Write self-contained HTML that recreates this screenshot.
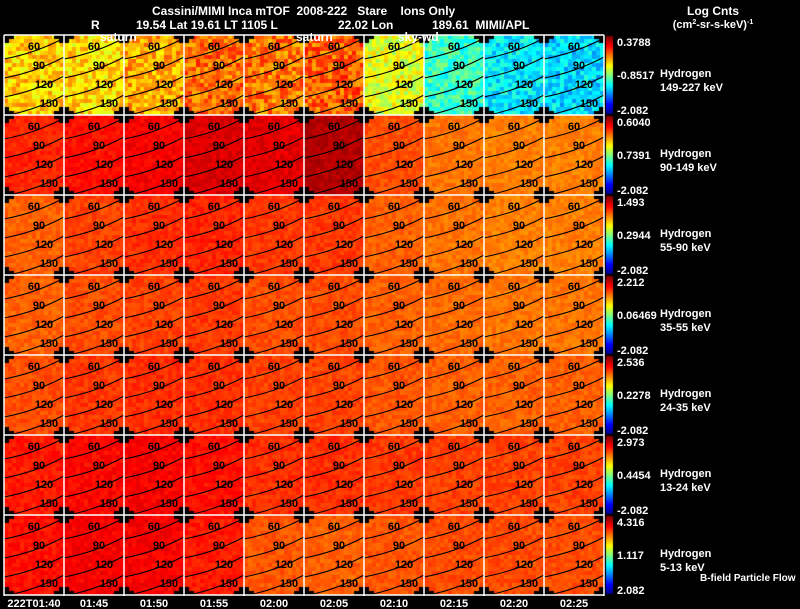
<!DOCTYPE html>
<html><head><meta charset="utf-8"><style>
html,body{margin:0;padding:0;background:#000;}
#wrap{position:relative;width:800px;height:609px;overflow:hidden;background:#000;font-family:"Liberation Sans",sans-serif;color:#fff;}
canvas,svg{position:absolute;left:0;top:0;}
text{white-space:pre;}
</style></head><body>
<div id="wrap">
<canvas id="cv" width="800" height="609"></canvas>
<svg id="sv" width="800" height="609"><defs id="defs"></defs></svg>
</div>
<script>
// ---- data ----
const times = ["222T01:40","01:45","01:50","01:55","02:00","02:05","02:10","02:15","02:20","02:25"];
const energyLabels = ["149-227 keV","90-149 keV","55-90 keV","35-55 keV","24-35 keV","13-24 keV","5-13 keV"];
const cbMax = ["0.3788","0.6040","1.493","2.212","2.536","2.973","4.316"];
const cbMid = ["-0.8517","0.7391","0.2944","0.06469","0.2278","0.4454","1.117"];
const cbMin = ["-2.082","-2.082","-2.082","-2.082","-2.082","-2.082","2.082"];
const contourLevels = ["60","90","120","150"];
// normalized mean log count per panel (row = energy, col = time)
const row0 = [0.67,0.66,0.71,0.77,0.76,0.78,0.60,0.43,0.36,0.34];
const row1 = [0.84,0.86,0.88,0.91,0.90,0.95,0.80,0.76,0.75,0.75];
const row2 = [0.78,0.81,0.83,0.84,0.82,0.82,0.78,0.76,0.75,0.75];
const row3 = [0.78,0.80,0.81,0.82,0.80,0.80,0.78,0.77,0.76,0.76];
const row4 = [0.80,0.82,0.83,0.83,0.81,0.81,0.79,0.78,0.78,0.78];
const row5 = [0.85,0.87,0.88,0.86,0.83,0.83,0.82,0.81,0.81,0.81];
const row6 = [0.86,0.88,0.88,0.85,0.79,0.78,0.79,0.80,0.80,0.80];
const rows = [row0,row1,row2,row3,row4,row5,row6];

const X0=4, CW=60, Y0=35, RH=80, NC=10, NR=7;
const xCol = c => X0 + c*CW;
const yRow = r => Y0 + r*RH;

function jet(v){
  v=Math.max(0,Math.min(1,v));
  const f=(a)=>Math.max(0,Math.min(1,1.5-Math.abs(4*v-a)));
  return [255*f(3),255*f(2),255*f(1)];
}
// deterministic speckle texture – not data
function tex(i,j,k){let h=Math.sin(i*12.9898+j*78.233+k*37.719)*43758.5453;return (h-Math.floor(h))-0.5;}

const cv=document.getElementById('cv'), ctx=cv.getContext('2d');
const CELL=4;
for(let r=0;r<NR;r++){for(let c=0;c<NC;c++){
  const x=xCol(c), y=yRow(r), mean=rows[r][c];
  const amp = r===0 ? 0.16 : 0.05;
  for(let i=0;i<15;i++){for(let j=0;j<20;j++){
    const v=mean+amp*tex(i,j,r*10+c);
    const [R,G,B]=jet(v);
    ctx.fillStyle=`rgb(${R|0},${G|0},${B|0})`;
    ctx.fillRect(x+i*CELL, y+j*CELL, CELL, CELL);
  }}
  ctx.fillStyle='#000';
  [[x,y,1,1],[x+CW,y,-1,1],[x,y+RH,1,-1],[x+CW,y+RH,-1,-1]].forEach(([cx,cy,sx,sy])=>{
    ctx.fillRect(sx>0?cx:cx-10, sy>0?cy:cy-4, 10, 4);
    ctx.fillRect(sx>0?cx:cx-5, sy>0?cy:cy-8, 5, 8);
  });
}}
for(let r=0;r<NR;r++){
  const y=yRow(r)+1;
  for(let k=0;k<RH-2;k++){
    const [R,G,B]=jet(1-k/(RH-2));
    ctx.fillStyle=`rgb(${R|0},${G|0},${B|0})`;
    ctx.fillRect(606,y+k,7,1);
  }
}

const NS='http://www.w3.org/2000/svg', sv=document.getElementById('sv'), defs=document.getElementById('defs');
function el(tag,attrs,text,parent){const e=document.createElementNS(NS,tag);for(const k in attrs)e.setAttribute(k,attrs[k]);if(text!==undefined)e.textContent=text;(parent||sv).appendChild(e);return e;}

for(let r=0;r<NR;r++){for(let c=0;c<NC;c++){
  const x=xCol(c), y=yRow(r);
  const cp=el('clipPath',{id:`cp${r}_${c}`},undefined,defs);
  el('rect',{x:x,y:y,width:CW,height:RH},undefined,cp);
  const g=el('g',{'clip-path':`url(#cp${r}_${c})`});
  
  
  contourLevels.forEach((lab,k)=>{
    const yl=y+24+k*19, yr=y+3+k*19;
    const p=el('path',{d:`M${x} ${yl} Q${x+32} ${yl-6} ${x+CW} ${yr}`,fill:'none',stroke:'#000','stroke-width':1},undefined,g);
    
    
    const t=el('text',{x:x+30+k*5,y:y+15+k*19,'font-size':11,'font-weight':'bold','text-anchor':'middle',fill:'#000'},lab,g);
    
    
  });
}}
for(let c=0;c<=NC;c++){
  const g=el('line',{x1:xCol(c),y1:Y0,x2:xCol(c),y2:Y0+NR*RH+1,stroke:'#fff','stroke-width':1.5});
  
  
}
for(let r=0;r<=NR;r++){
  const g=el('line',{x1:X0,y1:yRow(r),x2:X0+NC*CW,y2:yRow(r),stroke:'#fff','stroke-width':1.5});
  
  
}
times.forEach((t,c)=>{
  const e=el('text',{x:xCol(c)+30,y:607,'font-size':11,'font-weight':'bold','text-anchor':'middle',fill:'#fff'},t);
  
  
});
for(let r=0;r<NR;r++){
  const y=yRow(r);
  const a=el('text',{x:617,y:y+11,'font-size':11,'font-weight':'bold',fill:'#fff'},cbMax[r]);
  
  
  const b=el('text',{x:617,y:y+44,'font-size':11,'font-weight':'bold',fill:'#fff'},cbMid[r]);
  
  
  const m=el('text',{x:617,y:y+79,'font-size':11,'font-weight':'bold',fill:'#fff'},cbMin[r]);
  
  
  const h=el('text',{x:660,y:y+42,'font-size':11,'font-weight':'bold',fill:'#fff'},'Hydrogen');
  
  
  const en=el('text',{x:660,y:y+56,'font-size':11,'font-weight':'bold',fill:'#fff'},energyLabels[r]);
  
  
}
</script>
<svg width="800" height="609" style="position:absolute;left:0;top:0;pointer-events:none">
<g font-family="Liberation Sans, sans-serif" fill="#fff" font-size="12" font-weight="bold">
<text x="152" y="15" xml:space="preserve">Cassini/MIMI Inca mTOF  2008-222   Stare    Ions Only</text>
<text x="91" y="29">R</text>
<text x="136" y="29">19.54 Lat 19.61 LT 1105 L</text>
<text x="338" y="29">22.02 Lon</text>
<text x="432" y="29" xml:space="preserve">189.61  MIMI/APL</text>
<text x="100" y="41">saturn</text>
<text x="296" y="41">saturn</text>
<text x="398" y="41">sky-wd</text>
<text x="713" y="15" text-anchor="middle">Log Cnts</text>
<text x="713" y="28" text-anchor="middle" font-size="11">(cm<tspan font-size="7" dy="-4">2</tspan><tspan dy="4">-sr-s-keV)</tspan><tspan font-size="7" dy="-4">-1</tspan></text>
<text x="700" y="581" font-size="10">B-field Particle Flow</text>
</g></svg>
</body></html>
